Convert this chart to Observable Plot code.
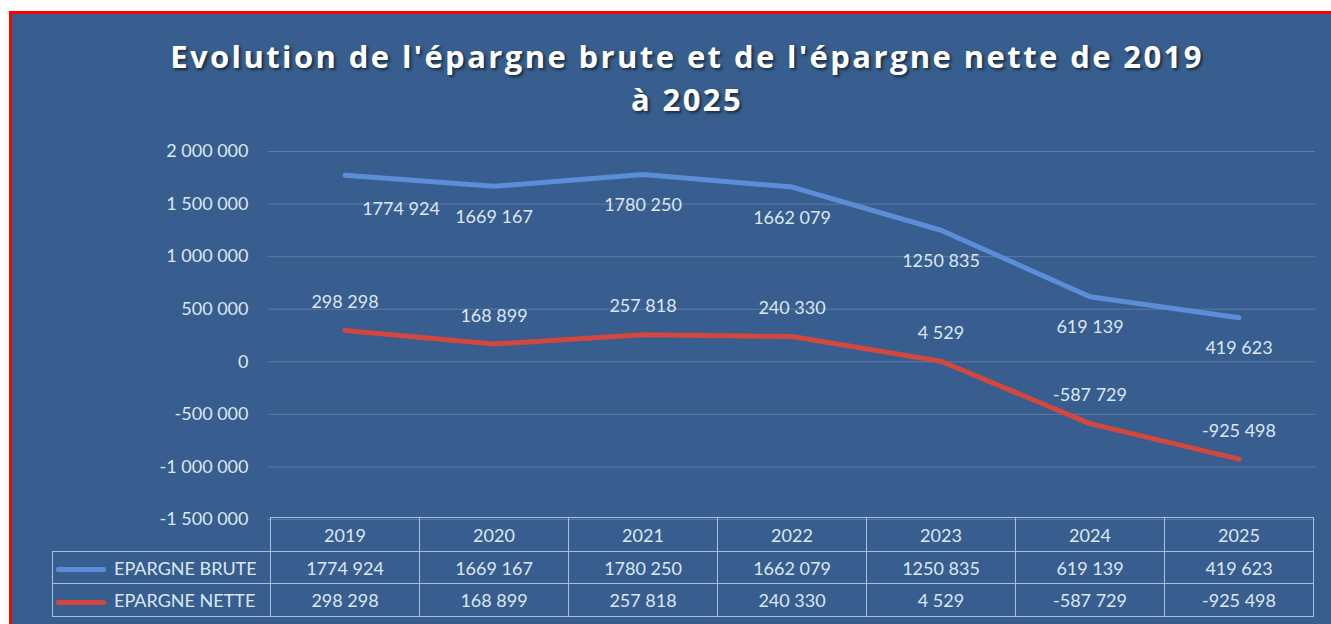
<!DOCTYPE html>
<html><head><meta charset="utf-8">
<script src="https://cdn.jsdelivr.net/npm/d3@7"></script>
<script src="https://cdn.jsdelivr.net/npm/@observablehq/plot@0.6"></script>
<style>
html,body{margin:0;padding:0;width:1331px;height:624px;overflow:hidden;background:#fff;font-family:Lato,"Open Sans",sans-serif;}
#frame{position:absolute;left:9px;top:11px;width:1322px;height:613px;background:#375E8E;border-left:3px solid #f00;border-top:3px solid #f00;box-sizing:border-box;}
#title{position:absolute;left:0;top:35px;width:1374px;text-align:center;color:#fff;font-family:"Open Sans",Lato,sans-serif;font-weight:700;font-size:31px;line-height:43px;letter-spacing:2.4px;text-shadow:2px 2px 3px rgba(0,0,0,0.55);}
#chart{position:absolute;left:0;top:140px;}
#chart svg{overflow:visible;}
#tbl{position:absolute;left:52px;top:517px;border-collapse:collapse;table-layout:fixed;color:#DCE6F2;font-size:18px;}
#tbl td{border:1.5px solid #A9C1DE;text-align:center;padding:0;white-space:nowrap;overflow:hidden;}
#tbl td.lab{text-align:left;}
.sw{display:inline-block;width:50px;height:5px;vertical-align:middle;margin:0 8px 0 3px;border-radius:2px;}
</style></head>
<body>
<div id="frame"></div>
<div id="title">Evolution de l'épargne brute et de l'épargne nette de 2019<br>à 2025</div>
<div id="chart"></div>
<table id="tbl"></table>
<script>
const years = ["2019","2020","2021","2022","2023","2024","2025"];
const brute = [1774924, 1669167, 1780250, 1662079, 1250835, 619139, 419623];
const nette = [298298, 168899, 257818, 240330, 4529, -587729, -925498];
const seriesNames = ["EPARGNE BRUTE", "EPARGNE NETTE"];
const seriesColors = ["#5B8ED6", "#D2483F"];
const yTicks = [2000000, 1500000, 1000000, 500000, 0, -500000, -1000000, -1500000];

const axisLocale = d3.formatLocale({decimal:",", thousands:" ", grouping:[3], currency:["","€"], minus:"-"});
const labelLocale = d3.formatLocale({decimal:",", thousands:" ", grouping:[3,4], currency:["","€"], minus:"-"});
const fmtAxis = axisLocale.format(",");
const fmtLabel = labelLocale.format(",");

const bruteData = years.map((y,i)=>({year:y, value:brute[i], serie:seriesNames[0]}));
const netteData = years.map((y,i)=>({year:y, value:nette[i], serie:seriesNames[1]}));
const allData = bruteData.concat(netteData);

const plot = Plot.plot({
  width: 1331, height: 389,
  marginLeft: 268, marginRight: 16, marginTop: 11, marginBottom: 10,
  style: {background: "transparent", color: "#DCE6F2", fontFamily: "Lato, sans-serif", fontSize: "18px", overflow: "visible"},
  x: {type: "band", domain: years, padding: 0, axis: null},
  y: {domain: [-1500000, 2000000], label: null},
  color: {domain: seriesNames, range: seriesColors},
  marks: [
    Plot.gridY(yTicks, {stroke: "#8FAAD0", strokeOpacity: 0.4, strokeWidth: 1}),
    Plot.axisY(yTicks, {tickSize: 0, tickPadding: 20, tickFormat: fmtAxis, fill: "#DCE6F2", fontSize: 18, label: null}),
    Plot.line(allData, {x: "year", y: "value", stroke: "serie", z: "serie", strokeWidth: 5, curve: "linear", strokeLinecap: "round", strokeLinejoin: "round"}),
    Plot.text(bruteData.slice(0,1), {x: "year", y: "value", text: d => fmtLabel(d.value), dy: 34, dx: 56, fill: "#DCE6F2", fontSize: 18}),
    Plot.text(bruteData.slice(1), {x: "year", y: "value", text: d => fmtLabel(d.value), dy: 31, fill: "#DCE6F2", fontSize: 18}),
    Plot.text(netteData, {x: "year", y: "value", text: d => fmtLabel(d.value), dy: -28, fill: "#DCE6F2", fontSize: 18})
  ]
});
document.getElementById("chart").appendChild(plot);

// data table aligned to the x scale
const xs = plot.scale("x");
const bw = xs.bandwidth;
const firstLeft = xs.apply(years[0]);
const labW = firstLeft - 52;
const tbl = document.getElementById("tbl");
let html = `<colgroup><col style="width:${labW}px">` + years.map(()=>`<col style="width:${bw}px">`).join("") + `</colgroup>`;
html += `<tr style="height:34px"><td style="border-top:none;border-left:none"></td>` + years.map(y=>`<td>${y}</td>`).join("") + `</tr>`;
const rows = [brute, nette];
rows.forEach((vals, r) => {
  html += `<tr style="height:${r===0?32:33}px"><td class="lab"><span class="sw" style="background:${seriesColors[r]}"></span>${seriesNames[r]}</td>` +
    vals.map(v=>`<td>${fmtLabel(v)}</td>`).join("") + `</tr>`;
});
tbl.innerHTML = html;
tbl.style.width = (labW + bw*years.length) + "px";
</script>
</body></html>
